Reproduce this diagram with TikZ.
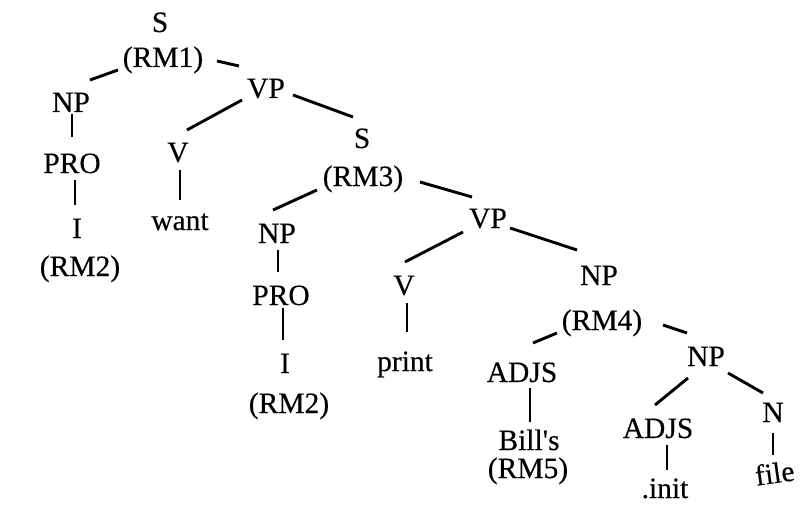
\documentclass[tikz,border=0pt]{standalone}
\usepackage{fontspec}
\setmainfont{Liberation Serif}[Ligatures=TeXOff]
\newfontfamily\inkfont{Liberation Serif}[Ligatures=TeXOff,FakeBold=0.3]
\begin{document}
\begin{tikzpicture}[x=1pt,y=-1pt,
  lab/.style={anchor=base,inner sep=0pt,font=\inkfont\fontsize{29.5}{34}\selectfont},
  branch/.style={line width=2.9pt,black}]
\useasboundingbox (0,0) rectangle (810,505);
% labels of the tree, placed on their baselines
\node[lab] (s1)    at (160,32)  {S};
\node[lab] (rm1)   at (163,67)  {(RM1)};
\node[lab] (np1)   at (71,112)  {NP};
\node[lab] (vp1)   at (266,98)  {VP};
\node[lab] (pro1)  at (72,173)  {PRO};
\node[lab] (v1)    at (178,162) {V};
\node[lab] (s2)    at (362,148) {S};
\node[lab] (rm3)   at (363,186) {(RM3)};
\node[lab] (i1)    at (77,238)  {I};
\node[lab] (want)  at (180,230) {want};
\node[lab] (rm2a)  at (80,276)  {(RM2)};
\node[lab] (np2)   at (277,243) {NP};
\node[lab] (pro2)  at (281,305) {PRO};
\node[lab] (i2)    at (285,373) {I};
\node[lab] (rm2b)  at (289,413) {(RM2)};
\node[lab] (vp2)   at (488,228) {VP};
\node[lab] (v2)    at (404,295) {V};
\node[lab] (print) at (405,371) {print};
\node[lab] (np3)   at (599,285) {NP};
\node[lab] (rm4)   at (602,330) {(RM4)};
\node[lab] (adjs1) at (522,382) {ADJS};
\node[lab] (np4)   at (706,366) {NP};
\node[lab] (bills) at (529,450) {Bill's};
\node[lab] (rm5)   at (528,478) {(RM5)};
\node[lab] (adjs2) at (658,438) {ADJS};
\node[lab] (n1)    at (773,422) {N};
\node[lab] (init)  at (665,498) {.init};
\node[lab,rotate=8] (file) at (776,483) {file};
% branches, each a short stroke between two labels
\draw[branch] ([shift={(-45,3)}]rm1.base)  -- ([shift={(19,-32)}]np1.base);
\draw[branch] ([shift={(54,-6)}]rm1.base)  -- ([shift={(-27,-32)}]vp1.base);
\draw[branch] ([shift={(1,2)}]np1.base)    -- ([shift={(0,-36)}]pro1.base);
\draw[branch] ([shift={(-24,2)}]vp1.base)  -- ([shift={(9,-32)}]v1.base);
\draw[branch] ([shift={(27,-3)}]vp1.base)  -- ([shift={(-9,-31)}]s2.base);
\draw[branch] ([shift={(3,7)}]pro1.base)   -- ([shift={(-2,-33)}]i1.base);
\draw[branch] ([shift={(2,8)}]v1.base)     -- ([shift={(0,-30)}]want.base);
\draw[branch] ([shift={(-46,4)}]rm3.base)  -- ([shift={(-4,-33)}]np2.base);
\draw[branch] ([shift={(57,-4)}]rm3.base)  -- ([shift={(-16,-31)}]vp2.base);
\draw[branch] ([shift={(1,7)}]np2.base)    -- ([shift={(-3,-33)}]pro2.base);
\draw[branch] ([shift={(2,3)}]pro2.base)   -- ([shift={(-2,-33)}]i2.base);
\draw[branch] ([shift={(-25,4)}]vp2.base)  -- ([shift={(1,-33)}]v2.base);
\draw[branch] ([shift={(22,0)}]vp2.base)   -- ([shift={(-22,-35)}]np3.base);
\draw[branch] ([shift={(3,8)}]v2.base)     -- ([shift={(2,-39)}]print.base);
\draw[branch] ([shift={(-45,3)}]rm4.base)  -- ([shift={(11,-39)}]adjs1.base);
\draw[branch] ([shift={(61,-5)}]rm4.base)  -- ([shift={(-19,-33)}]np4.base);
\draw[branch] ([shift={(8,6)}]adjs1.base)  -- ([shift={(1,-28)}]bills.base);
\draw[branch] ([shift={(-18,12)}]np4.base) -- ([shift={(-3,-33)}]adjs2.base);
\draw[branch] ([shift={(22,7)}]np4.base)   -- ([shift={(-10,-29)}]n1.base);
\draw[branch] ([shift={(9,7)}]adjs2.base)  -- ([shift={(2,-28)}]init.base);
\draw[branch] ([shift={(0,11)}]n1.base)    -- ([shift={(-3,-28)}]file.base);
\end{tikzpicture}
\end{document}
